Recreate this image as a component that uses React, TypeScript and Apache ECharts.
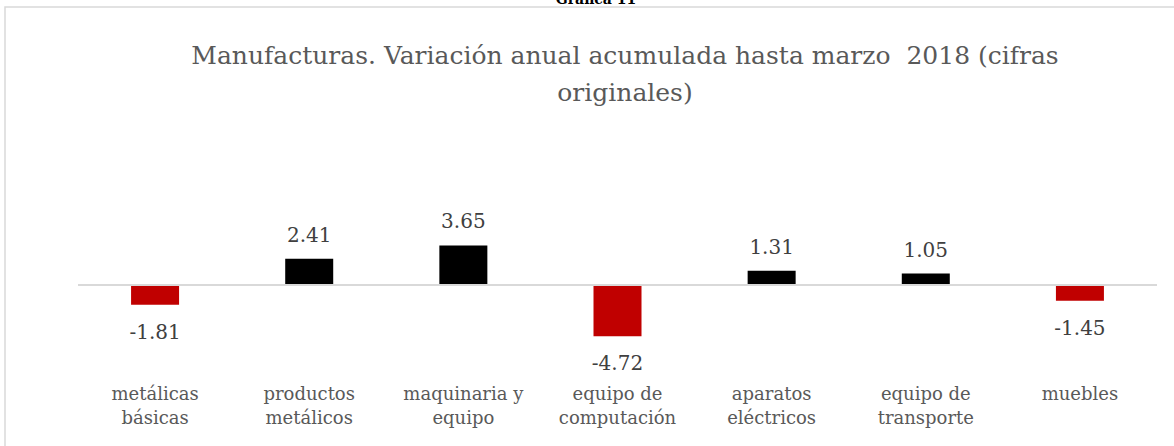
import React, { useEffect, useRef } from "react";
import * as echarts from "echarts";

const headerText = "Gráfica 11";
const titleText =
  "Manufacturas. Variación anual acumulada hasta marzo  2018 (cifras\noriginales)";
const categories = [
  "metálicas\nbásicas",
  "productos\nmetálicos",
  "maquinaria y\nequipo",
  "equipo de\ncomputación",
  "aparatos\neléctricos",
  "equipo de\ntransporte",
  "muebles",
];
const values = [-1.81, 2.41, 3.65, -4.72, 1.31, 1.05, -1.45];

const FONT = "DejaVu Serif";
const RED = "#C00000";
const BLACK = "#000000";

export default function App() {
  const ref = useRef<HTMLDivElement>(null);
  useEffect(() => {
    if (!ref.current) return;
    const chart = echarts.init(ref.current, null, { renderer: "svg" });
    const yMin = -5;
    const yMax = 4;
    const pxPerUnit = 10.85;
    const zeroY = 285;
    const top = zeroY - yMax * pxPerUnit;
    const height = (yMax - yMin) * pxPerUnit;
    chart.setOption({
      animation: false,
      backgroundColor: "#ffffff",
      title: {
        text: titleText,
        left: 620,
        textAlign: "center",
        top: 32,
        textStyle: {
          fontFamily: FONT,
          fontSize: 25,
          fontWeight: "normal",
          color: "#595959",
          lineHeight: 37,
        },
      },
      graphic: [
        {
          type: "rect",
          shape: { x: 5, y: 7, width: 1400, height: 800 },
          style: { fill: "none", stroke: "#d9d9d9", lineWidth: 1.5 },
          silent: true,
        },
        {
          type: "text",
          x: 596,
          y: 6,
          style: {
            text: headerText,
            fontFamily: FONT,
            fontSize: 14,
            fontWeight: "bold",
            fill: "#000",
            align: "center",
            verticalAlign: "bottom",
          },
        },
      ],
      grid: {
        left: 78,
        right: 17,
        top: top,
        height: height,
        containLabel: false,
      },
      xAxis: {
        type: "category",
        data: categories,
        axisLine: { show: false },
        axisTick: { show: false },
        splitLine: { show: false },
        axisLabel: {
          interval: 0,
          margin: 42,
          fontFamily: FONT,
          fontSize: 18,
          lineHeight: 24,
          color: "#595959",
        },
      },
      yAxis: {
        type: "value",
        min: yMin,
        max: yMax,
        show: false,
        splitLine: { show: false },
      },
      series: [
        {
          type: "bar",
          barWidth: 48,
          data: values.map((v) => ({
            value: v,
            itemStyle: { color: v < 0 ? RED : BLACK },
            label: {
              position: v < 0 ? "bottom" : "top",
              distance: v < 0 ? 17 : 14,
            },
          })),
          label: {
            show: true,
            fontFamily: FONT,
            fontSize: 20,
            color: "#404040",
            formatter: (p: any) => Number(p.value).toFixed(2),
          },
          markLine: {
            silent: true,
            symbol: "none",
            label: { show: false },
            lineStyle: { color: "#d9d9d9", width: 2, type: "solid" },
            data: [{ yAxis: 0 }],
          },
        },
      ],
    });
    return () => chart.dispose();
  }, []);
  return (
    <div
      ref={ref}
      style={{
        position: "absolute",
        left: 0,
        top: 0,
        width: 1174,
        height: 446,
        background: "#fff",
      }}
    />
  );
}
